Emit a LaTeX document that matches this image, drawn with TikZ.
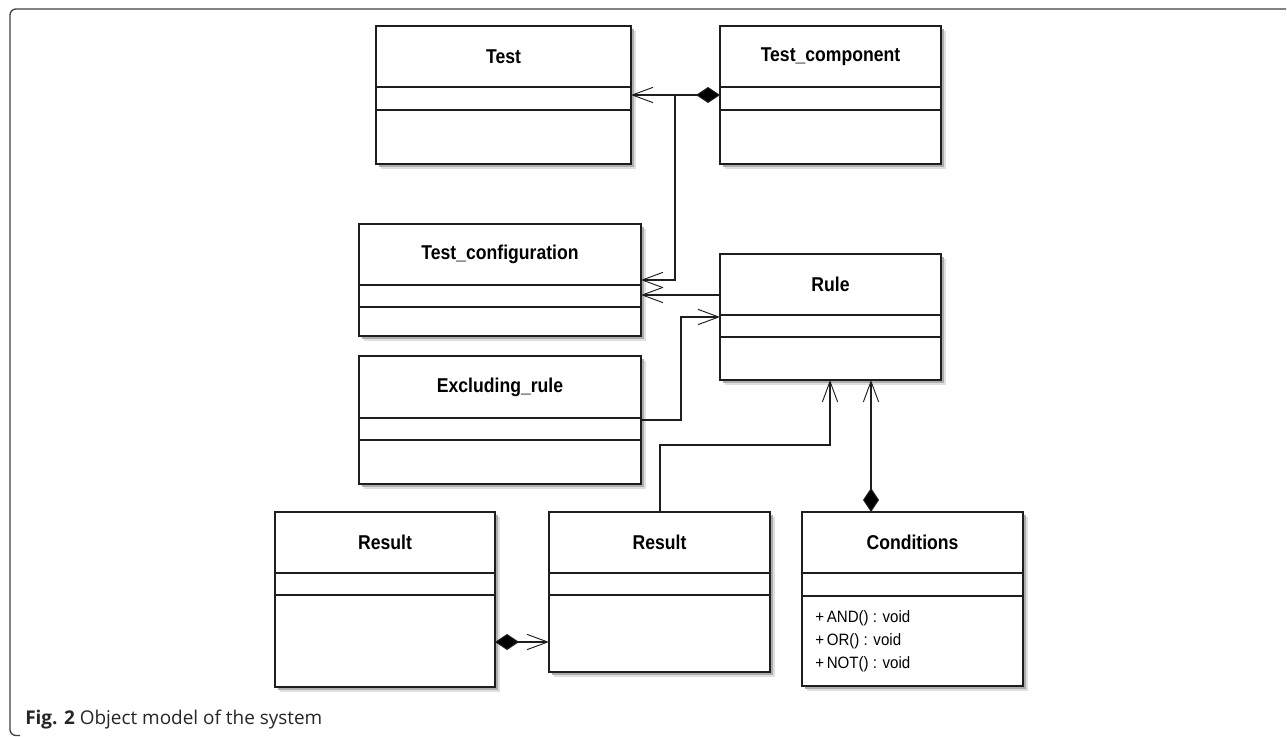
\documentclass[tikz,border=0pt]{standalone}
\usepackage{fontspec}
\setmainfont{Liberation Sans}
\newfontfamily\classfont[FakeStretch=0.88]{Liberation Sans}
\newfontfamily\methodfont[FakeStretch=0.92]{Liberation Sans}
\newfontfamily\capfont{Open Sans}
\usetikzlibrary{arrows.meta,fit}
\definecolor{linec}{HTML}{1E1E1E}
\tikzset{
  classbox/.style={draw=linec, line width=1pt, fill=white, inner sep=0pt, outer sep=0pt},
  classtitle/.style={font=\classfont\bfseries\fontsize{15pt}{18pt}\selectfont, inner sep=0pt, text=black},
  methodtext/.style={font=\methodfont\fontsize{12.3pt}{14pt}\selectfont, inner sep=0pt, anchor=west, text=black},
  divider/.style={draw=linec, line width=1pt},
  conn/.style={draw=linec, line width=0.8pt},
  openarr/.style={conn, -{Straight Barb[length=15.5pt, width=11.5pt, line width=0.7pt]}},
  comparr/.style={conn, {Diamond[length=18pt, width=12pt, fill=black]}-{Straight Barb[length=15.5pt, width=11.5pt, line width=0.7pt]}},
  framec/.style={draw=black!75, line width=1pt, rounded corners=4.5pt},
}
% name, x1, y1, x2, y2, title, divider1, divider2
\newcommand\umlclass[8]{%
  \fill[black!12] (#2+5,#3+5) rectangle (#4+5,#5+5);
  \fill[black!32] (#2+3,#3+3) rectangle (#4+3,#5+3);
  \coordinate (#1-nw) at (#2,#3);
  \coordinate (#1-se) at (#4,#5);
  \node[classbox, fit=(#1-nw)(#1-se)] (#1) {};
  \draw[divider] (#2,#7) -- (#4,#7);
  \draw[divider] (#2,#8) -- (#4,#8);
  \node[classtitle] (#1-title) at ({(#2+#4)/2},{(#3+#7)/2}) {#6};
}
\begin{document}
\begin{tikzpicture}[x=0.75pt, y=-0.75pt]
\useasboundingbox (0,0) rectangle (1287,737);
\fill[white] (0,0) rectangle (1287,737);
% frame
\draw[framec] (1286,9) -- (10,9) -- (10,735.5) -- (20,735.5);

% classes
\umlclass{test}{376}{26}{631}{164}{Test}{87}{110}
\umlclass{testcomp}{720}{26}{941}{164}{Test\_component}{87}{110}
\umlclass{config}{359}{224}{641}{336}{Test\_configuration}{285}{307}
\umlclass{rule}{720}{254}{941}{380}{Rule}{315}{337}
\umlclass{excl}{359}{356}{641}{484}{Excluding\_rule}{418}{440}
\umlclass{resA}{275}{512}{495}{687}{Result}{573}{595}
\umlclass{resB}{549}{512}{770}{672}{Result}{573}{595}
\umlclass{cond}{802}{512}{1023}{686}{Conditions}{573}{596}

% methods of Conditions
\node[methodtext] (cond-m1) at (815,618) {+\,AND() : void};
\node[methodtext] (cond-m2) at (815,641) {+\,OR() : void};
\node[methodtext] (cond-m3) at (815,664) {+\,NOT() : void};

% connectors
\coordinate (j1) at (675,95);
\draw[comparr] (testcomp.west |- j1) -- (test.east |- j1);
\draw[openarr] (j1) -- (675,280) -- (config.east |- 0,280);
\draw[openarr] (rule.west |- 0,295) -- (config.east |- 0,295);
\draw[openarr] (excl.east |- 0,420) -- (681,420) -- (681,317) -- (rule.west |- 0,317);
\draw[openarr] (resB.north -| 660,0) -- (660,445) -- (830,445) -- (rule.south -| 830,0);
\draw[comparr] (cond.north -| 871,0) -- (rule.south -| 871,0);
\draw[comparr] (resA.east |- 0,642) -- (resB.west |- 0,642);

% caption
\node[anchor=west, inner sep=0pt, font=\capfont\fontsize{14.2pt}{16pt}\selectfont, text=black!85] (caption) at (25,720) {\textbf{Fig. 2} Object model of the system};
\end{tikzpicture}
\end{document}
